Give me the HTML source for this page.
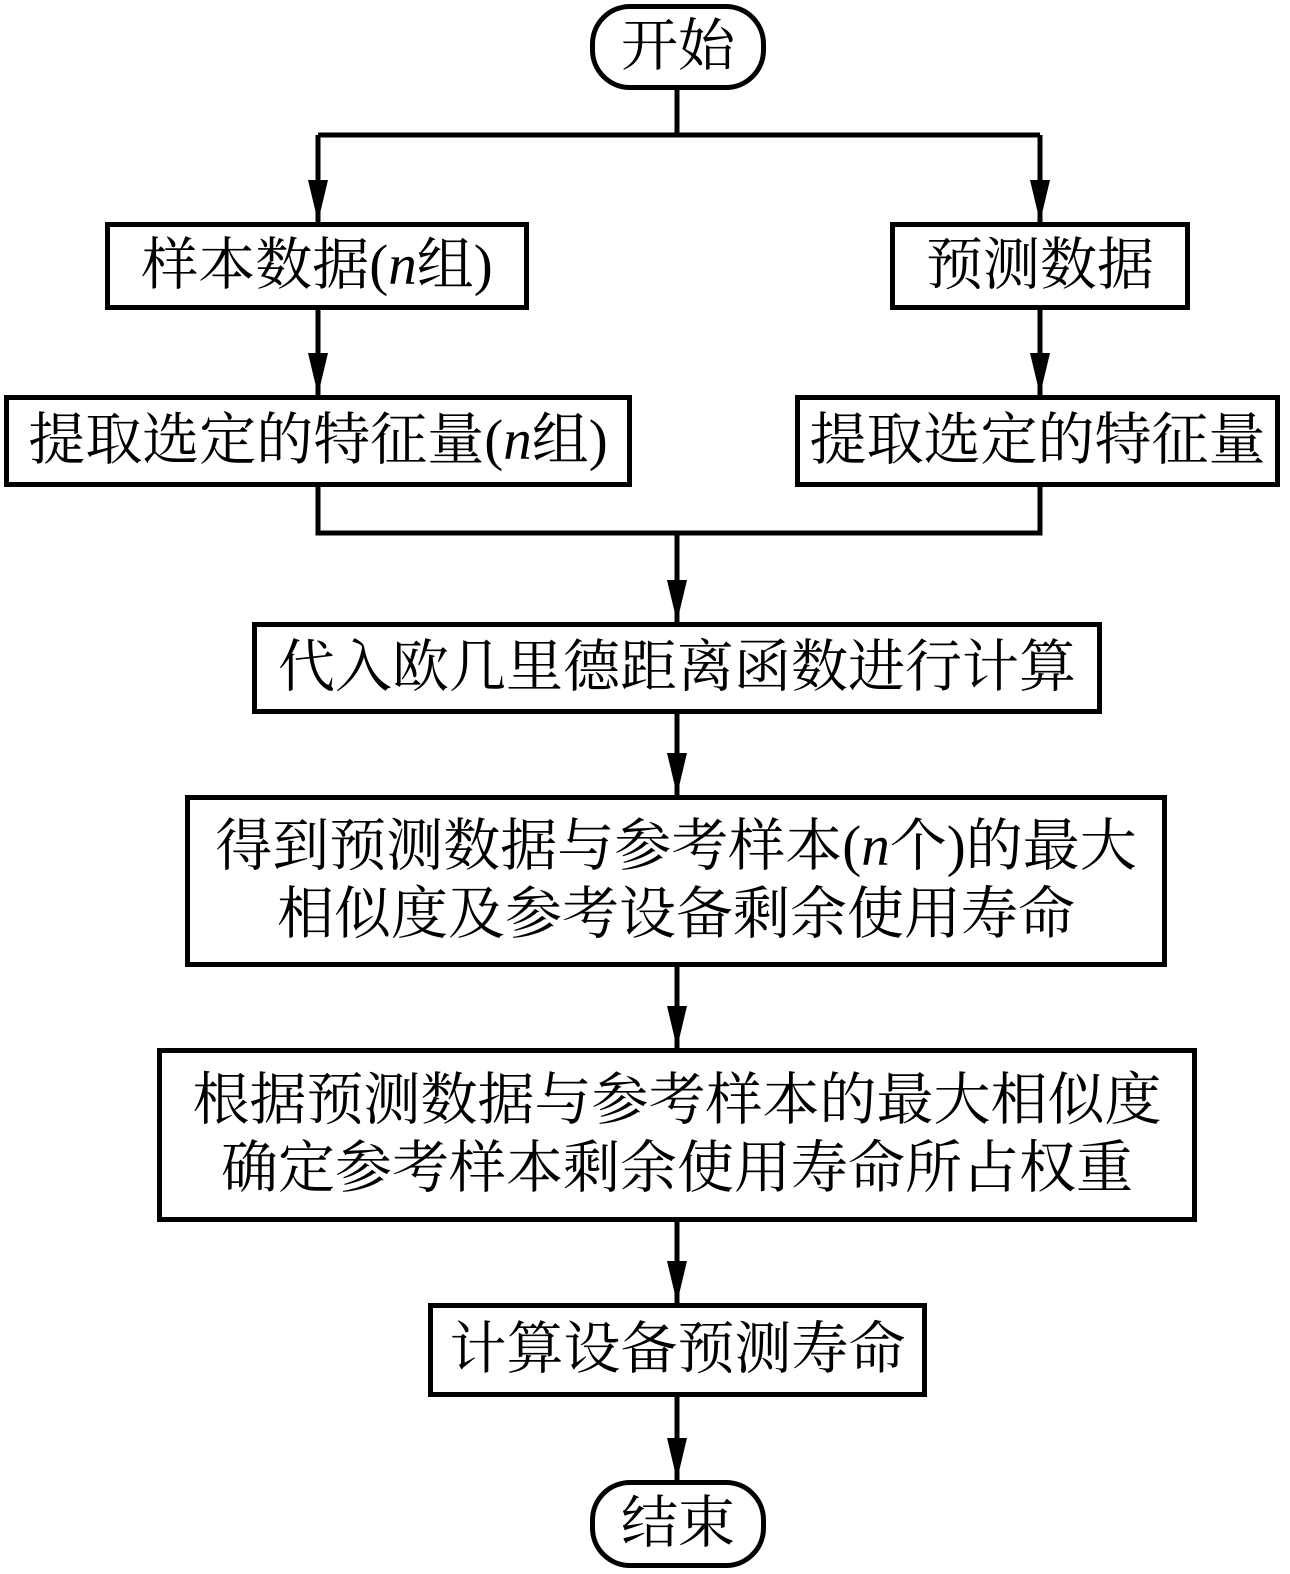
<!DOCTYPE html>
<html><head><meta charset="utf-8"><style>
html,body{margin:0;padding:0;background:#fff;}
body{width:1290px;height:1574px;position:relative;overflow:hidden;font-family:"Liberation Serif","Noto Serif CJK SC",serif;}
.b{position:absolute;border:5px solid #000;box-sizing:border-box;display:flex;align-items:center;justify-content:center;text-align:center;font-size:57px;line-height:68px;color:#000;background:#fff;white-space:nowrap;}
.b span{display:block;}
.r{border-radius:40px;}
i{font-style:italic;}
</style></head><body>
<svg width="1290" height="1574" style="position:absolute;left:0;top:0">
<g stroke="#000" stroke-width="5" fill="none">
<path d="M677 90V135M318 135H1040M318 135V222M1040 135V222"/>
<path d="M318 308V395M1040 308V395"/>
<path d="M318 485V533H1040V485M677 533V622"/>
<path d="M677 712V795M677 965V1048M677 1220V1303M677 1395V1480"/>
</g>
<g fill="#000">
<path d="M308 180L328 180L318 222Z"/><path d="M1030 180L1050 180L1040 222Z"/>
<path d="M308 353L328 353L318 395Z"/><path d="M1030 353L1050 353L1040 395Z"/>
<path d="M667 580L687 580L677 622Z"/>
<path d="M667 753L687 753L677 795Z"/>
<path d="M667 1006L687 1006L677 1048Z"/>
<path d="M667 1261L687 1261L677 1303Z"/>
<path d="M667 1438L687 1438L677 1480Z"/>
</g>
</svg>
<div class="b r" style="left:590px;top:4px;width:176px;height:86px;"><span>开始</span></div>
<div class="b" style="left:105px;top:222px;width:424px;height:88px;"><span>样本数据(<i>n</i>组)</span></div>
<div class="b" style="left:890px;top:222px;width:300px;height:88px;"><span>预测数据</span></div>
<div class="b" style="left:4px;top:395px;width:628px;height:92px;"><span>提取选定的特征量(<i>n</i>组)</span></div>
<div class="b" style="left:795px;top:395px;width:485px;height:92px;"><span>提取选定的特征量</span></div>
<div class="b" style="left:252px;top:622px;width:850px;height:92px;"><span>代入欧几里德距离函数进行计算</span></div>
<div class="b" style="left:185px;top:795px;width:982px;height:172px;"><span>得到预测数据与参考样本(<i>n</i>个)的最大<br>相似度及参考设备剩余使用寿命</span></div>
<div class="b" style="left:157px;top:1048px;width:1040px;height:174px;"><span>根据预测数据与参考样本的最大相似度<br>确定参考样本剩余使用寿命所占权重</span></div>
<div class="b" style="left:428px;top:1303px;width:499px;height:94px;"><span>计算设备预测寿命</span></div>
<div class="b r" style="left:590px;top:1480px;width:176px;height:88px;"><span>结束</span></div>
</body></html>
